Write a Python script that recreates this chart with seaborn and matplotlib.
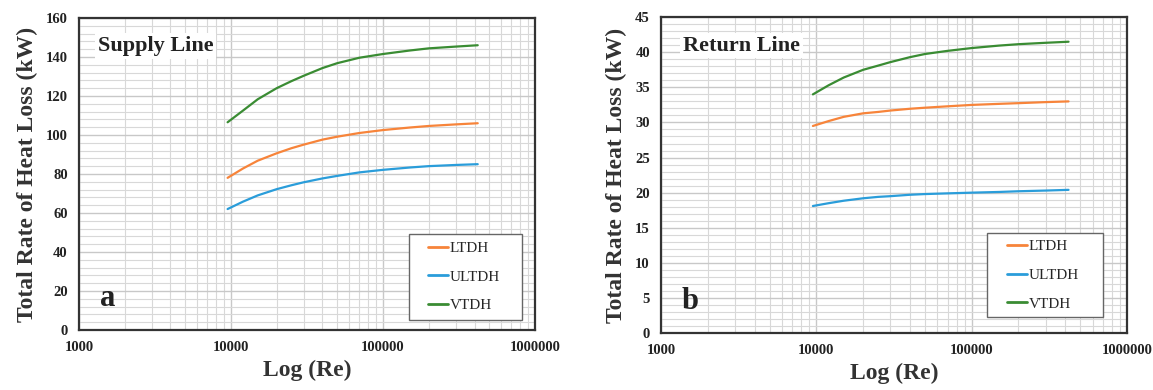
import numpy as np
import pandas as pd
import seaborn as sns
import matplotlib
matplotlib.use("Agg")
import matplotlib.pyplot as plt
from matplotlib.patches import Rectangle
from matplotlib.ticker import FixedLocator, FuncFormatter, LogLocator, NullFormatter, MultipleLocator

# ---- data ----
re_values = [9500, 12000, 15000, 20000, 25000, 30000, 40000, 50000, 70000, 100000,
             150000, 200000, 300000, 420000]

supply_ltdh  = [78.0, 82.8, 86.8, 90.6, 93.2, 95.0, 97.6, 99.1, 101.0, 102.5,
                103.8, 104.6, 105.4, 106.0]
supply_ultdh = [62.0, 65.8, 69.0, 72.2, 74.2, 75.7, 77.7, 79.0, 80.8, 82.1,
                83.3, 84.0, 84.6, 85.0]
supply_vtdh  = [106.5, 112.5, 118.3, 124.0, 127.6, 130.3, 134.3, 136.8, 139.6, 141.5,
                143.3, 144.4, 145.3, 146.0]

return_ltdh  = [29.5, 30.2, 30.8, 31.3, 31.5, 31.7, 31.95, 32.1, 32.3, 32.5,
                32.65, 32.75, 32.9, 33.0]
return_ultdh = [18.1, 18.5, 18.85, 19.2, 19.4, 19.5, 19.7, 19.8, 19.9, 20.0,
                20.1, 20.2, 20.3, 20.4]
return_vtdh  = [34.0, 35.3, 36.4, 37.5, 38.1, 38.6, 39.3, 39.75, 40.2, 40.6,
                40.95, 41.15, 41.35, 41.5]

series_names = ["LTDH", "ULTDH", "VTDH"]
x_ticks = [1000, 10000, 100000, 1000000]
panel_titles = ["Supply Line", "Return Line"]
panel_letters = ["a", "b"]

colors = {"LTDH": "#F7843A", "ULTDH": "#2A9DDA", "VTDH": "#3A8C33"}

def make_df(ltdh, ultdh, vtdh):
    rows = []
    for name, vals in zip(series_names, [ltdh, ultdh, vtdh]):
        for x, y in zip(re_values, vals):
            rows.append({"Re": x, "Q": y, "series": name})
    return pd.DataFrame(rows)

df_supply = make_df(supply_ltdh, supply_ultdh, supply_vtdh)
df_return = make_df(return_ltdh, return_ultdh, return_vtdh)

sns.set_style("white")
plt.rcParams["font.family"] = ["Liberation Serif", "DejaVu Serif"]

fig = plt.figure(figsize=(11.53, 3.90), dpi=100)
ax1 = fig.add_axes([0.0685, 0.154, 0.3955, 0.800])
ax2 = fig.add_axes([0.5733, 0.146, 0.4042, 0.810])

def style_axis(ax, df, ymax, ymajor, yminor, title, title_pos, letter, legend_rect):
    sns.lineplot(data=df, x="Re", y="Q", hue="series", palette=colors,
                 hue_order=series_names, ax=ax, linewidth=1.6, legend=True, sort=True)
    ax.set_xscale("log")
    ax.set_xlim(1000, 1000000)
    ax.set_ylim(0, ymax)
    ax.xaxis.set_major_locator(FixedLocator(x_ticks))
    ax.xaxis.set_major_formatter(FuncFormatter(lambda v, p: f"{int(round(v))}"))
    ax.xaxis.set_minor_locator(LogLocator(base=10, subs=np.arange(2, 10)))
    ax.xaxis.set_minor_formatter(NullFormatter())
    ax.yaxis.set_major_locator(MultipleLocator(ymajor))
    ax.yaxis.set_minor_locator(MultipleLocator(yminor))
    ax.grid(True, which="major", color="#c8c8c8", linewidth=1.0)
    ax.grid(True, which="minor", color="#d8d8d8", linewidth=0.8)
    ax.set_axisbelow(True)
    for s in ax.spines.values():
        s.set_color("#333333")
        s.set_linewidth(1.6)
    ax.tick_params(axis="both", which="major", labelsize=10.5, length=4, width=1.0,
                   direction="out", colors="#222222", pad=4)
    ax.tick_params(axis="both", which="minor", length=0)
    for lab in ax.get_xticklabels() + ax.get_yticklabels():
        lab.set_fontweight("bold")
    ax.set_xlabel("Log (Re)", fontsize=17, fontweight="bold", color="#333333", labelpad=4)
    ax.set_ylabel("Total Rate of Heat Loss (kW)", fontsize=17, fontweight="bold",
                  color="#333333", labelpad=6)
    ax.text(title_pos[0], title_pos[1], title, transform=ax.transAxes, fontsize=16,
            fontweight="bold", color="#222222", ha="left", va="center",
            bbox=dict(facecolor="white", edgecolor="none", pad=2))
    ax.text(0.045, 0.10, letter, transform=ax.transAxes, fontsize=22, fontweight="bold",
            color="#222222", ha="left", va="center")
    # legend frame drawn as a box, legend content centred inside it
    lx, ly, lw, lh = legend_rect
    ax.add_patch(Rectangle((lx, ly), lw, lh, transform=ax.transAxes, facecolor="white",
                           edgecolor="#666666", linewidth=1.0, zorder=4))
    handles, labels = ax.get_legend_handles_labels()
    leg = ax.legend(handles, labels, loc="center", bbox_to_anchor=(lx + lw / 2 - 0.004, ly + lh / 2),
                    fontsize=11, frameon=False, handlelength=1.3,
                    handletextpad=0.1, labelspacing=0.98, borderpad=0.0,
                    borderaxespad=0)
    leg.set_zorder(5)
    for line in leg.get_lines():
        line.set_linewidth(2.0)

style_axis(ax1, df_supply, 160, 20, 4, panel_titles[0], (0.042, 0.91), panel_letters[0],
           (0.724, 0.032, 0.248, 0.276))
style_axis(ax2, df_return, 45, 5, 1, panel_titles[1], (0.047, 0.91), panel_letters[1],
           (0.6996, 0.0506, 0.249, 0.266))

fig.savefig("out.png", dpi=100)
